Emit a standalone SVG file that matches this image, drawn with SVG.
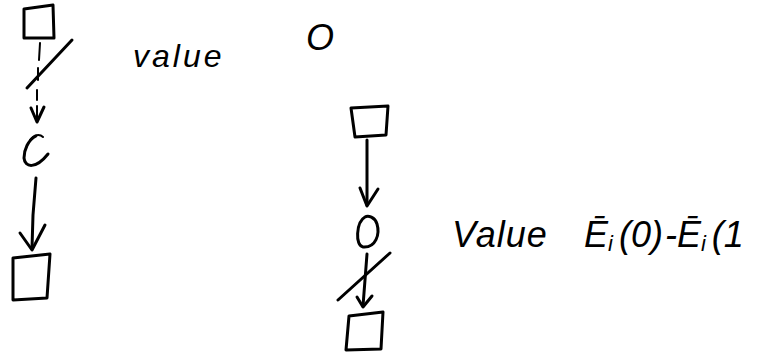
<svg xmlns="http://www.w3.org/2000/svg" width="775" height="356" viewBox="0 0 775 356">
<style>
.s{fill:none;stroke:#000;stroke-width:3;stroke-linecap:round;stroke-linejoin:round}
.t{fill:none;stroke:#000;stroke-width:2;stroke-linecap:round}
.lbl{font-family:"Liberation Sans",Arial,sans-serif;font-style:italic;fill:#000}
</style>
<rect width="775" height="356" fill="#fff"/>
<g id="left-top-square"><path class="s" d="M24 9 L53 5 L54 38 L24 38 Z"/></g>
<g id="left-circle"><path class="s" d="M36 136 C28 140 24 150 24 158 C25 168 36 169 48 154"/><path class="t" d="M30 140 C34 134 40 134 43 137"/></g>
<g id="left-bottom-square"><path class="s" d="M13 258 L50 254 L47 298 L13 300 Z"/></g>
<g id="mid-top-square"><path class="s" d="M351 108 L388 106 L386 135 L355 137 Z"/></g>
<g id="mid-circle"><path class="s" d="M365 217 C356 222 355 246 363 247 C376 248 380 234 377 224 C375 217 368 215 365 217 Z"/></g>
<g id="mid-bottom-square"><path class="s" d="M349 316 L383 312 L381 349 L346 350 Z"/></g>
<g id="connectors">
<path class="t" d="M40 43 L39 60 M38 68 L38 80 M37 90 L37 100 M37 106 L37 121"/>
<path class="s" d="M72 40 L27 88"/>
<path class="s" d="M31 108 L37 122 L44 107"/>
<path class="s" d="M36 178 L33 215 L32 248"/>
<path class="s" d="M20 233 L32 250 L45 225"/>
<path class="s" d="M367 140 L367 205"/>
<path class="s" d="M360 188 L367 206 L378 189"/>
<path class="s" d="M367 254 L363 306"/>
<path class="s" d="M390 253 L338 300"/>
<path class="s" d="M357 297 L363 307 L372 296"/>
</g>
<g id="labels">
<text class="lbl" x="133" y="67" font-size="32" letter-spacing="3">value</text>
<text class="lbl" x="306" y="50" font-size="36" font-style="normal">O</text>
<text class="lbl" x="452" y="247" font-size="36" letter-spacing="1">Value</text>
<text class="lbl" x="584" y="247" font-size="36">Ē<tspan font-size="22" dy="4">i</tspan><tspan dy="-4" dx="6">(0)</tspan><tspan dx="2">-Ē</tspan><tspan font-size="22" dy="4">i</tspan><tspan dy="-4" dx="6">(1</tspan></text>
</g>
</svg>
